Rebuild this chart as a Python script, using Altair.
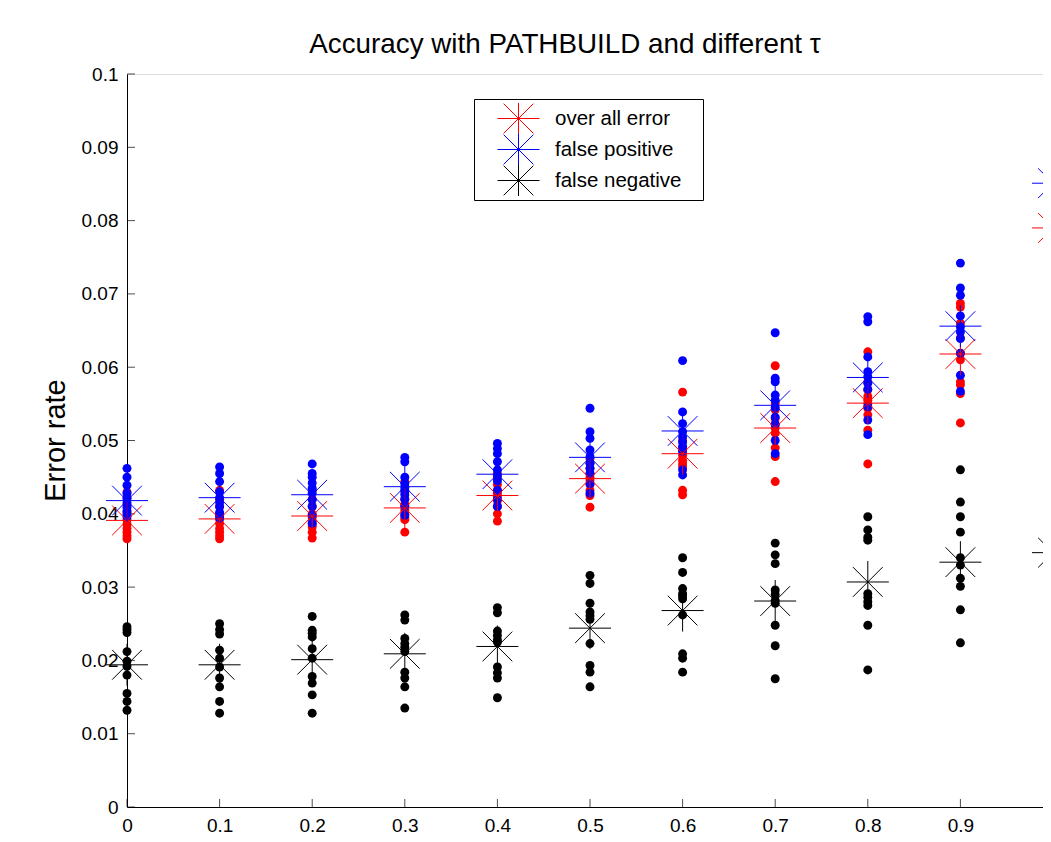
import altair as alt
import pandas as pd

# ---------------- data ----------------
tau = [0.0, 0.1, 0.2, 0.3, 0.4, 0.5, 0.6, 0.7, 0.8, 0.9]
tau_means = [0.0, 0.1, 0.2, 0.3, 0.4, 0.5, 0.6, 0.7, 0.8, 0.9, 1.0]

overall_dots = [
    [0.0430, 0.0422, 0.0412, 0.0402, 0.0392, 0.0386, 0.0380, 0.0375, 0.0370, 0.0366],
    [0.0432, 0.0420, 0.0410, 0.0400, 0.0393, 0.0387, 0.0380, 0.0375, 0.0370, 0.0366],
    [0.0432, 0.0420, 0.0410, 0.0400, 0.0395, 0.0390, 0.0385, 0.0382, 0.0375, 0.0367],
    [0.0444, 0.0430, 0.0420, 0.0413, 0.0410, 0.0405, 0.0400, 0.0395, 0.0392, 0.0375],
    [0.0455, 0.0448, 0.0440, 0.0432, 0.0428, 0.0424, 0.0418, 0.0410, 0.0400, 0.0390],
    [0.0475, 0.0469, 0.0462, 0.0455, 0.0450, 0.0446, 0.0440, 0.0432, 0.0425, 0.0409],
    [0.0566, 0.0500, 0.0490, 0.0487, 0.0480, 0.0473, 0.0468, 0.0464, 0.0432, 0.0426],
    [0.0602, 0.0551, 0.0542, 0.0530, 0.0522, 0.0517, 0.0510, 0.0490, 0.0478, 0.0444],
    [0.0621, 0.0580, 0.0569, 0.0560, 0.0555, 0.0550, 0.0544, 0.0535, 0.0514, 0.0468],
    [0.0687, 0.0682, 0.0660, 0.0640, 0.0619, 0.0610, 0.0580, 0.0576, 0.0564, 0.0524],
]
fp_dots = [
    [0.0462, 0.0450, 0.0439, 0.0428, 0.0421, 0.0415, 0.0409, 0.0404, 0.0399, 0.0396],
    [0.0464, 0.0455, 0.0444, 0.0430, 0.0422, 0.0416, 0.0410, 0.0402, 0.0398, 0.0394],
    [0.0468, 0.0455, 0.0450, 0.0442, 0.0435, 0.0428, 0.0419, 0.0410, 0.0398, 0.0387],
    [0.0477, 0.0471, 0.0450, 0.0441, 0.0436, 0.0432, 0.0426, 0.0420, 0.0410, 0.0398],
    [0.0496, 0.0489, 0.0482, 0.0471, 0.0460, 0.0452, 0.0445, 0.0432, 0.0420, 0.0410],
    [0.0544, 0.0512, 0.0503, 0.0487, 0.0478, 0.0469, 0.0462, 0.0455, 0.0441, 0.0428],
    [0.0609, 0.0539, 0.0523, 0.0512, 0.0505, 0.0498, 0.0492, 0.0485, 0.0460, 0.0453],
    [0.0647, 0.0585, 0.0580, 0.0562, 0.0555, 0.0545, 0.0532, 0.0522, 0.0500, 0.0482],
    [0.0669, 0.0662, 0.0614, 0.0594, 0.0587, 0.0578, 0.0570, 0.0546, 0.0528, 0.0508],
    [0.0742, 0.0708, 0.0698, 0.0670, 0.0655, 0.0648, 0.0639, 0.0619, 0.0589, 0.0567],
]
fn_dots = [
    [0.0246, 0.0242, 0.0238, 0.0212, 0.0199, 0.0192, 0.0180, 0.0155, 0.0144, 0.0132],
    [0.0250, 0.0242, 0.0236, 0.0214, 0.0203, 0.0191, 0.0176, 0.0164, 0.0144, 0.0128],
    [0.0260, 0.0241, 0.0237, 0.0232, 0.0216, 0.0203, 0.0178, 0.0169, 0.0153, 0.0128],
    [0.0262, 0.0255, 0.0230, 0.0223, 0.0218, 0.0212, 0.0184, 0.0176, 0.0164, 0.0135],
    [0.0272, 0.0265, 0.0240, 0.0234, 0.0228, 0.0225, 0.0191, 0.0183, 0.0176, 0.0149],
    [0.0316, 0.0305, 0.0278, 0.0266, 0.0261, 0.0256, 0.0223, 0.0193, 0.0184, 0.0164],
    [0.0340, 0.0320, 0.0298, 0.0291, 0.0288, 0.0284, 0.0262, 0.0209, 0.0203, 0.0184],
    [0.0360, 0.0344, 0.0332, 0.0296, 0.0290, 0.0282, 0.0278, 0.0248, 0.0220, 0.0175],
    [0.0396, 0.0378, 0.0368, 0.0364, 0.0291, 0.0286, 0.0280, 0.0275, 0.0248, 0.0187],
    [0.0460, 0.0416, 0.0396, 0.0375, 0.0340, 0.0330, 0.0312, 0.0301, 0.0269, 0.0224],
]

overall_mean = [0.0391, 0.0393, 0.0397, 0.0408, 0.0425, 0.0448, 0.0482, 0.0517, 0.0551, 0.0618, 0.0790]
fp_mean = [0.0418, 0.0422, 0.0426, 0.0437, 0.0454, 0.0477, 0.0513, 0.0548, 0.0586, 0.0656, 0.0851]
fn_mean = [0.0194, 0.0194, 0.0201, 0.0209, 0.0219, 0.0244, 0.0268, 0.0281, 0.0307, 0.0334, 0.0347]

series_names = ["over all error", "false positive", "false negative"]
series_colors = ["#ff0000", "#0000ff", "#000000"]

x_ticks = [0, 0.1, 0.2, 0.3, 0.4, 0.5, 0.6, 0.7, 0.8, 0.9]
y_ticks = [0, 0.01, 0.02, 0.03, 0.04, 0.05, 0.06, 0.07, 0.08, 0.09, 0.1]

# ---------------- tables ----------------
dot_rows = []
for name, dots in zip(series_names, [overall_dots, fp_dots, fn_dots]):
    for t, vals in zip(tau, dots):
        for v in vals:
            dot_rows.append({"tau": t, "err": v, "series": name})
dots_df = pd.DataFrame(dot_rows)

mean_rows = []
for name, means in zip(series_names, [overall_mean, fp_mean, fn_mean]):
    for t, v in zip(tau_means, means):
        mean_rows.append({"tau": t, "err": v, "series": name})
means_df = pd.DataFrame(mean_rows)

STAR = "M-1,0H1M0,-1V1M-0.7071,-0.7071L0.7071,0.7071M-0.7071,0.7071L0.7071,-0.7071"
FONT = "Liberation Sans"

# the visible axis is cut at the window edge, just before tau = 1
x_scale = alt.Scale(domain=[0, 0.9892], nice=False, zero=False)
y_scale = alt.Scale(domain=[0, 0.1], nice=False)

x_axis = alt.Axis(values=x_ticks, title=None, ticks=False, grid=False, format="~g",
                  labelPadding=9, labelFontSize=19, labelFont=FONT, labelColor="black",
                  labelFlush=False, labelOverlap=False, domainColor="black", domainWidth=1)
y_axis = alt.Axis(values=y_ticks, title="Error rate", ticks=False, grid=False, format="~g",
                  labelPadding=9, labelFontSize=19, labelFont=FONT, labelColor="black",
                  labelFlush=False, labelOverlap=False, domainColor="black", domainWidth=1,
                  titleFontSize=29, titleFont=FONT, titleFontWeight="normal", titleColor="black",
                  titleX=-72, titleY=366, titleAlign="center", titleBaseline="middle", titleAngle=270)

color_dots = alt.Color("series:N", scale=alt.Scale(domain=series_names, range=series_colors), legend=None)

dots = alt.Chart(dots_df).mark_circle(size=80, opacity=1).encode(
    x=alt.X("tau:Q", scale=x_scale, axis=x_axis),
    y=alt.Y("err:Q", scale=y_scale, axis=y_axis),
    color=color_dots,
)

stars = alt.Chart(means_df).mark_point(shape=STAR, filled=False, size=1764, strokeWidth=1, opacity=1).encode(
    x=alt.X("tau:Q", scale=x_scale),
    y=alt.Y("err:Q", scale=y_scale),
    color=alt.Color("series:N", scale=alt.Scale(domain=series_names, range=series_colors),
                    legend=alt.Legend(title="\u00a0", titleOrient="right", titlePadding=17,
                                      titleFontSize=6, orient="none", legendX=347, legendY=25,
                                      padding=4, strokeColor="black", fillColor="white",
                                      symbolType=STAR, symbolSize=1764, symbolStrokeWidth=1,
                                      clipHeight=31, rowPadding=0, symbolOffset=19, labelOffset=15,
                                      labelFontSize=20.5, labelFont=FONT, labelColor="black",
                                      labelLimit=400)),
)

y_tick_marks = alt.Chart(pd.DataFrame({"v": y_ticks})).mark_tick(
    orient="horizontal", size=8, thickness=1, color="black").encode(
    y=alt.Y("v:Q", scale=y_scale), x=alt.value(4))
x_tick_marks = alt.Chart(pd.DataFrame({"v": x_ticks})).mark_tick(
    orient="vertical", size=8, thickness=1, color="black").encode(
    x=alt.X("v:Q", scale=x_scale), y=alt.value(729))

chart = alt.layer(y_tick_marks, x_tick_marks, dots, stars).resolve_scale(color="independent").properties(
    width=916, height=733,
    padding={"left": 119, "top": 66, "right": 0, "bottom": 30},
    autosize=alt.AutoSizeParams(type="none"),
    title=alt.Title("Accuracy with PATHBUILD and different τ", fontSize=27.8, font=FONT,
                    fontWeight="normal", color="black", anchor="middle", frame="group",
                    dx=-20, dy=34, offset=18, baseline="alphabetic"),
).configure_view(strokeWidth=0).configure(font=FONT, background="white")

chart.save("out.html", embed_options={"renderer": "svg", "actions": False})
